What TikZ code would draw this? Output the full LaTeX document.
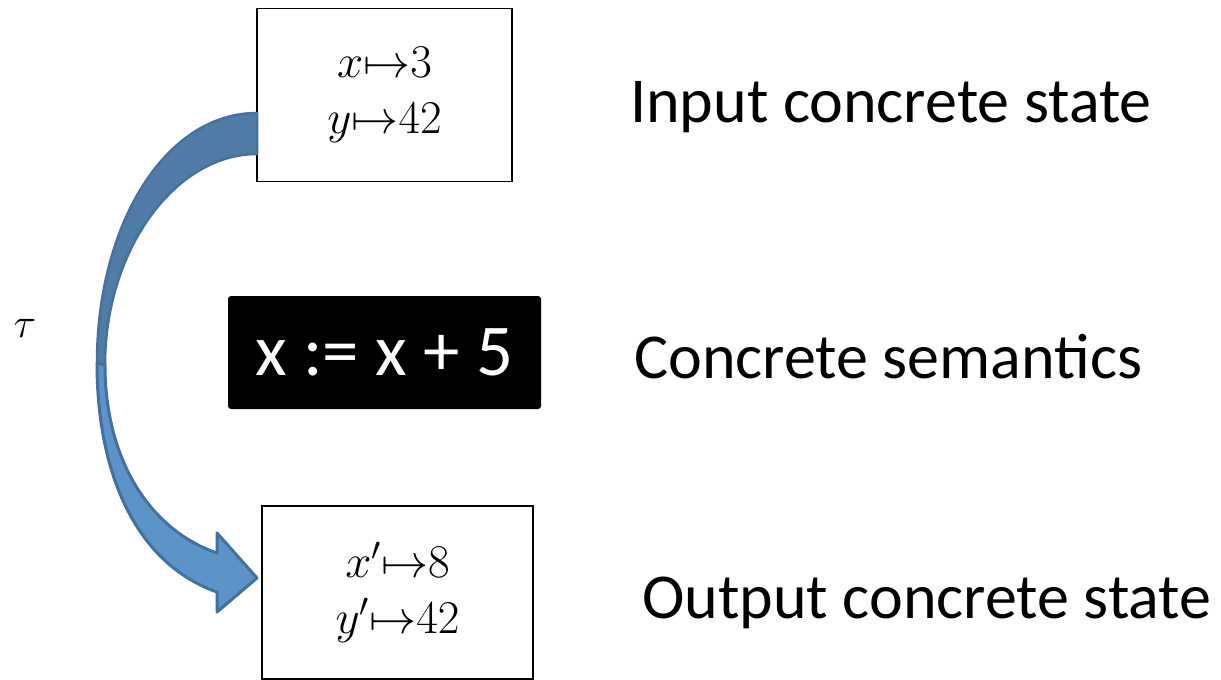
\documentclass[tikz,border=0pt]{standalone}
\usepackage{fix-cm}
\usepackage{fontspec}
\usepackage{tikz}
\usetikzlibrary{positioning}
\newfontfamily\calibrifont{Carlito}
\definecolor{backblue}{HTML}{4F7CA6}
\definecolor{backline}{HTML}{46719D}
\definecolor{frontblue}{HTML}{5C93C8}
\definecolor{frontline}{HTML}{41719C}

\begin{document}
\begin{tikzpicture}[
    x=1pt, y=-1pt,
    statebox/.style={
        draw=black, line width=1.5pt, fill=white,
        rectangle, align=center, inner sep=0pt,
        minimum width=#1, minimum height=173pt,
        font=\fontsize{47}{56}\selectfont,
    },
    stmtbox/.style={
        fill=black, rectangle, rounded corners=3pt,
        minimum width=313pt, minimum height=113pt,
        text=white, font=\calibrifont\fontsize{73}{80}\selectfont,
    },
    caption/.style={
        anchor=base west, inner sep=0pt,
        font=\calibrifont\fontsize{64}{70}\selectfont,
    },
]
\useasboundingbox (0,0) rectangle (1221,680);

\node[statebox=255pt] (instate) at (384.5,95) {$x{\mapsto}3$\\ $y{\mapsto}42$};
\node[stmtbox] (stmt) at (384.5,352.5) {x := x + 5};
\node[statebox=271pt] (outstate) at (397.5,592.5) {$x'{\mapsto}8$\\ $y'{\mapsto}42$};

\node[caption] (inlabel) at (630,122) {Input concrete state};
\node[caption] (stmtlabel) at (634,378) {Concrete semantics};
\node[caption] (outlabel) at (642,618) {Output concrete state};

\node[font=\fontsize{42}{42}\selectfont] (tau) at (25,328) {$\tau$};

% curved block arrow, back half then front half
\filldraw[fill=backblue, draw=backline, line width=2.5pt, line join=round]
    (257,113) .. controls (165,113) and (97,225) .. (97,363)
    -- (105,365) .. controls (105,250) and (175,154) .. (257,154) -- cycle;
\filldraw[fill=frontblue, draw=frontline, line width=3pt, line join=round]
    (97,363) .. controls (97,480) and (140,565) .. (217,592)
    -- (217,612) -- (257,578) -- (217,533) -- (217,553)
    .. controls (150,530) and (105,460) .. (105,365) -- cycle;

\end{tikzpicture}
\end{document}
